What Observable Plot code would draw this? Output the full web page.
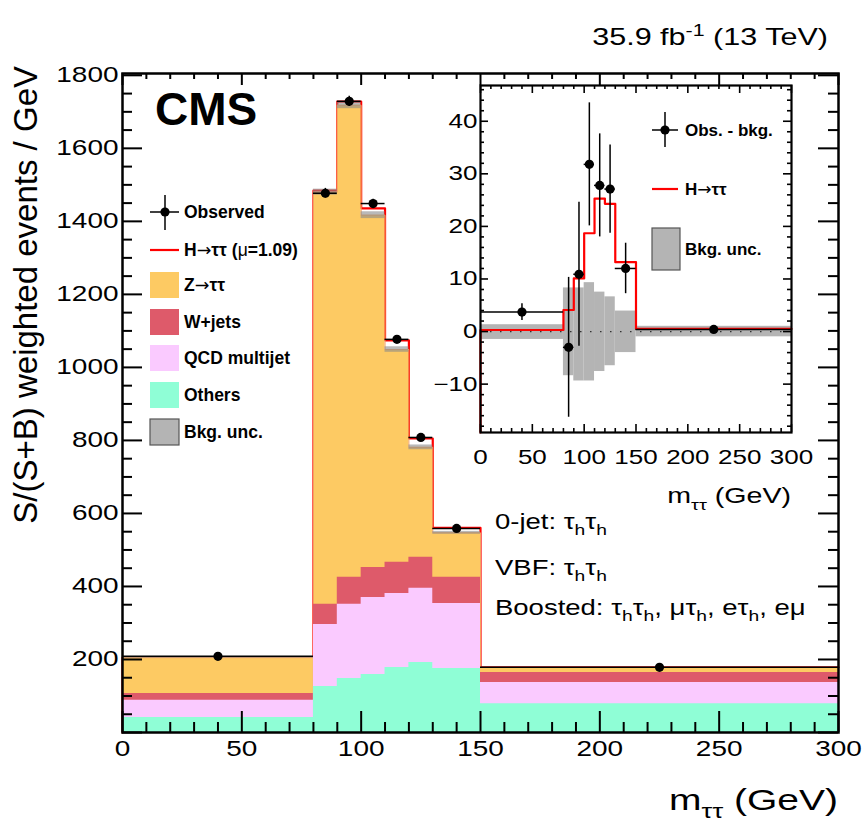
<!DOCTYPE html>
<html><head><meta charset="utf-8">
<script src="https://cdn.jsdelivr.net/npm/d3@7"></script>
<script src="https://cdn.jsdelivr.net/npm/@observablehq/plot@0.6"></script>
<style>
body{margin:0;background:#fff;}
#wrap{position:relative;width:863px;height:824px;overflow:hidden;}
#main{position:absolute;left:0;top:0;}
#inset{position:absolute;left:440px;top:80px;}
</style></head><body><div id="wrap"><div id="main"></div><div id="inset"></div></div>
<script>
// ---------- data ----------
const binEdges   = [0, 80, 90, 100, 110, 120, 130, 150, 300];
const others     = [41, 126, 148, 159, 178, 192, 175, 79];
const qcd        = [47, 170, 203, 211, 203, 203, 178, 58];
const wjets      = [19, 55, 74, 82, 85, 85, 72, 27];
const ztt        = [98, 1129, 1293, 965, 583, 301, 122, 14];
const signal     = [0.3, 4.1, 10.1, 18.7, 25.3, 24.3, 13.2, 0.5];
const obsMinusBkg= [3.7, -3.0, 10.9, 31.8, 27.8, 27.1, 12.0, 0.4];
const obsErr     = [1.6, 13.3, 13.7, 11.7, 9.8, 8.4, 4.8, 0.6];
const uncLo      = [1.5, 8.4, 9.4, 9.4, 7.6, 6.5, 4.0, 1.0];
const uncHi      = [1.3, 8.3, 8.3, 9.3, 7.5, 6.6, 3.9, 1.0];
const mainXTicks = [0, 50, 100, 150, 200, 250, 300];
const mainYTicks = [0, 200, 400, 600, 800, 1000, 1200, 1400, 1600, 1800];
const mainYLabels= [200, 400, 600, 800, 1000, 1200, 1400, 1600, 1800];
const insetYTicks= [-10, 0, 10, 20, 30, 40];

const FONT = "'Liberation Sans', Arial, Helvetica, sans-serif";
const C = {z:"#fdca63", w:"#de5a6a", qcd:"#facaff", oth:"#8ffed6", unc:"#b4b4b4", sig:"#ff0000"};

const bins = binEdges.slice(0,-1).map((lo,i)=>{
  const hi = binEdges[i+1];
  const cOth = others[i], cQcd = cOth+qcd[i], cW = cQcd+wjets[i], cZ = cW+ztt[i];
  return {lo, hi, xc:(lo+hi)/2, cOth, cQcd, cW, cZ,
    tot: cZ+signal[i], obs: cZ+obsMinusBkg[i], err: obsErr[i],
    d: obsMinusBkg[i], sig: signal[i],
    uLo: cZ-uncLo[i], uHi: cZ+uncHi[i], iLo: -uncLo[i], iHi: uncHi[i]};
});
function stepPts(acc, start){
  const pts=[{x:binEdges[0], y:start}];
  bins.forEach(b=>{pts.push({x:b.lo,y:acc(b)},{x:b.hi,y:acc(b)});});
  return pts;
}
function stepArea(acc){
  const pts=[];
  bins.forEach(b=>{pts.push({x:b.lo,y:acc(b)},{x:b.hi,y:acc(b)});});
  return pts;
}
const xMinor = d3.range(0,301,10).filter(v=>v%50);
const yMinor = d3.range(0,1801,50).filter(v=>v%200);
const iyMinor = d3.range(-18,47,2).filter(v=>v%10);

// ---------- main plot ----------
const W=863,H=824,mL=122,mR=25,mT=73,mB=92;
const iw=W-mL-mR, ih=H-mT-mB;
const tk = (vals, dim, opts)=> dim==="x" ? Plot.ruleX(vals,{x:d=>d,stroke:"black",...opts}) : Plot.ruleY(vals,{y:d=>d,stroke:"black",...opts});
const layer = (acc, fill)=> Plot.areaY(stepArea(acc),{x:"x",y1:0,y2:"y",fill,curve:"linear"});
const main = Plot.plot({
  width:W, height:H, marginLeft:mL, marginRight:mR, marginTop:mT, marginBottom:mB,
  x:{domain:[0,300]}, y:{domain:[0,1805]},
  style:{fontFamily:FONT, fontSize:"21.5px", background:"transparent", color:"black"},
  marks:[
    Plot.line(stepPts(b=>b.tot,0),{x:"x",y:"y",stroke:C.sig,strokeWidth:2.2}),
    layer(b=>b.cZ, C.z),
    Plot.line(stepPts(b=>b.cZ,0),{x:"x",y:"y",stroke:"#f4a060",strokeWidth:1}),
    layer(b=>b.cW, C.w),
    layer(b=>b.cQcd, C.qcd),
    layer(b=>b.cOth, C.oth),
    Plot.rect(bins,{x1:"lo",x2:"hi",y1:"uLo",y2:"uHi",fill:"#8a8a8a",fillOpacity:0.6}),
    Plot.ruleY(bins,{y:"obs",x1:"lo",x2:"hi",stroke:"black",strokeWidth:1.5}),
    Plot.ruleX(bins,{x:"xc",y1:d=>d.obs-d.err,y2:d=>d.obs+d.err,stroke:"black",strokeWidth:1.5}),
    Plot.dot(bins,{x:"xc",y:"obs",r:4.6,fill:"black"}),
    tk(mainXTicks,"x",{insetTop:ih-21,strokeWidth:2}),
    tk(xMinor,"x",{insetTop:ih-10,strokeWidth:2}),
    tk(mainXTicks,"x",{insetBottom:ih-12,strokeWidth:2}),
    tk(xMinor,"x",{insetBottom:ih-6,strokeWidth:2}),
    tk(mainYTicks,"y",{insetRight:iw-20,strokeWidth:2}),
    tk(yMinor,"y",{insetRight:iw-10,strokeWidth:2}),
    tk(mainYTicks,"y",{insetLeft:iw-20,strokeWidth:2}),
    tk(yMinor,"y",{insetLeft:iw-10,strokeWidth:2}),
    Plot.frame({stroke:"black",strokeWidth:2.5}),
    Plot.axisX(mainXTicks,{tickSize:0,tickPadding:8,label:null,tickFormat:d=>String(d)}),
    Plot.axisY(mainYLabels,{tickSize:0,tickPadding:4,label:null,tickFormat:d=>String(d)})
  ]
});
document.getElementById("main").appendChild(main);

// ---------- inset plot ----------
const iL=40,iR=10,iT=5,iB=75, IW=361, IH=427;
const iiw=IW-iL-iR, iih=IH-iT-iB;
const iYDom=[-19.2,46.8];
const inset = Plot.plot({
  width:IW, height:IH, marginLeft:iL, marginRight:iR, marginTop:iT, marginBottom:iB,
  x:{domain:[0,300]}, y:{domain:iYDom},
  style:{fontFamily:FONT, fontSize:"20px", background:"transparent", color:"black", overflow:"visible"},
  marks:[
    Plot.frame({fill:"white"}),
    Plot.rect(bins,{x1:"lo",x2:"hi",y1:"iLo",y2:"iHi",fill:C.unc}),
    Plot.ruleY([0],{stroke:"#333",strokeWidth:1.2,strokeDasharray:"1.5,8.5"}),
    Plot.line(stepPts(b=>b.sig,iYDom[0]),{x:"x",y:"y",stroke:C.sig,strokeWidth:2.2}),
    Plot.ruleY(bins,{y:"d",x1:"lo",x2:"hi",stroke:"black",strokeWidth:1.5}),
    Plot.ruleX(bins,{x:"xc",y1:d=>d.d-d.err,y2:d=>d.d+d.err,stroke:"black",strokeWidth:1.5}),
    Plot.dot(bins,{x:"xc",y:"d",r:4.6,fill:"black"}),
    tk(mainXTicks,"x",{insetTop:iih-8,strokeWidth:1.6}),
    tk(xMinor,"x",{insetTop:iih-4,strokeWidth:1.6}),
    tk(mainXTicks,"x",{insetBottom:iih-8,strokeWidth:1.6}),
    tk(xMinor,"x",{insetBottom:iih-4,strokeWidth:1.6}),
    tk(insetYTicks,"y",{insetRight:iiw-8,strokeWidth:1.6}),
    tk(iyMinor,"y",{insetRight:iiw-4,strokeWidth:1.6}),
    tk(insetYTicks,"y",{insetLeft:iiw-8,strokeWidth:1.6}),
    tk(iyMinor,"y",{insetLeft:iiw-4,strokeWidth:1.6}),
    Plot.frame({stroke:"black",strokeWidth:2.2}),
    Plot.axisX(mainXTicks,{tickSize:0,tickPadding:17,label:null,tickFormat:d=>String(d)}),
    Plot.axisY(insetYTicks,{tickSize:0,tickPadding:3,label:null,tickFormat:d=>d<0?"\u2212"+(-d):String(d)})
  ]
});
document.getElementById("inset").appendChild(inset);

// ---------- stretch tick labels (ROOT-like wide glyphs) ----------
function stretchTicks(svg, s){
  d3.select(svg).selectAll('[aria-label="x-axis tick label"] text, [aria-label="y-axis tick label"] text').each(function(){
    const L=this.getComputedTextLength();
    this.setAttribute("textLength", L*s);
    this.setAttribute("lengthAdjust","spacingAndGlyphs");
  });
}
stretchTicks(main,1.3);
stretchTicks(inset,1.3);

// ---------- text helper ----------
function label(svg, x, y, parts, o={}){
  const g = svg.append("g").attr("transform",`translate(${x},${y})${o.rotate?` rotate(${o.rotate})`:""} scale(${o.sx||1},1)`);
  const t = g.append("text").attr("text-anchor",o.anchor||"start").attr("font-size",o.size)
    .attr("font-weight",o.weight||"normal").attr("font-family",FONT).attr("fill","black").style("white-space","pre");
  let cur=0;
  for (const p of parts){
    const [str, shift=0, scale=1, w, fam] = Array.isArray(p)?p:[p];
    const ts = t.append("tspan").text(str).attr("dy", shift-cur);
    if (scale!==1) ts.attr("font-size", o.size*scale);
    if (w) ts.attr("font-weight", w);
    if (fam) ts.attr("font-family", fam);
    cur=shift;
  }
}
const ARROW = ["→",0,1,"normal","'DejaVu Sans', sans-serif"];
const ms = d3.select(main);
// titles
label(ms, 37, 66, ["S/(S+B) weighted events / GeV"], {size:33, anchor:"end", rotate:-90});
label(ms, 838, 810, ["m", ["ττ",8,0.7], [" (GeV)",0]], {size:30, anchor:"end", sx:1.3});
label(ms, 828, 45, ["35.9 fb", ["-1",-9,0.7], [" (13 TeV)",0]], {size:23.5, anchor:"end", sx:1.3});
label(ms, 155, 125, ["CMS"], {size:46, weight:"bold"});
// annotations
label(ms, 495, 529, ["0-jet: τ",["h",6,0.7],["τ",0],["h",6,0.7]], {size:22, sx:1.25});
label(ms, 495, 575, ["VBF: τ",["h",6,0.7],["τ",0],["h",6,0.7]], {size:22, sx:1.25});
label(ms, 495, 615, ["Boosted: τ",["h",6,0.7],["τ",0],["h",6,0.7],[", μτ",0],["h",6,0.7],[", eτ",0],["h",6,0.7],[", eμ",0]], {size:22, sx:1.25});

// main legend
const legX0=150, legX1=179, legTx=184;
ms.append("line").attr("x1",legX0).attr("x2",legX1).attr("y1",212).attr("y2",212).attr("stroke","black").attr("stroke-width",1.5);
ms.append("line").attr("x1",165).attr("x2",165).attr("y1",195).attr("y2",230).attr("stroke","black").attr("stroke-width",1.5);
ms.append("circle").attr("cx",165).attr("cy",212).attr("r",4.6).attr("fill","black");
label(ms, legTx, 218, ["Observed"], {size:17.5, weight:"bold"});
ms.append("line").attr("x1",legX0).attr("x2",legX1).attr("y1",250).attr("y2",250).attr("stroke",C.sig).attr("stroke-width",2.2);
label(ms, legTx, 256, ["H",ARROW,"ττ (",["μ",0,1,"normal"],"=1.09)"], {size:17.5, weight:"bold"});
const boxes = [[C.z,285,["Z",ARROW,"ττ"]],[C.w,322,["W+jets"]],[C.qcd,358,["QCD multijet"]],[C.oth,395,["Others"]],[C.unc,432,["Bkg. unc."]]];
boxes.forEach(([col,cy,txt],i)=>{
  const r = ms.append("rect").attr("x",legX0).attr("y",cy-13).attr("width",legX1-legX0).attr("height",26).attr("fill",col);
  if (i===4) r.attr("stroke","#555").attr("stroke-width",1.2);
  label(ms, legTx, cy+6, txt, {size:17.5, weight:"bold"});
});

// inset texts & legend
const is = d3.select(inset);
const ox=440, oy=80;
label(is, 791-ox, 503-oy, ["m", ["ττ",7,0.7], [" (GeV)",0]], {size:22, anchor:"end", sx:1.3});
is.append("line").attr("x1",652-ox).attr("x2",678-ox).attr("y1",130-oy).attr("y2",130-oy).attr("stroke","black").attr("stroke-width",1.5);
is.append("line").attr("x1",665-ox).attr("x2",665-ox).attr("y1",112-oy).attr("y2",147-oy).attr("stroke","black").attr("stroke-width",1.5);
is.append("circle").attr("cx",665-ox).attr("cy",130-oy).attr("r",4.6).attr("fill","black");
label(is, 685-ox, 136-oy, ["Obs. - bkg."], {size:17, weight:"bold"});
is.append("line").attr("x1",652-ox).attr("x2",678-ox).attr("y1",189-oy).attr("y2",189-oy).attr("stroke",C.sig).attr("stroke-width",2.2);
label(is, 685-ox, 195-oy, ["H",ARROW,"ττ"], {size:17, weight:"bold"});
is.append("rect").attr("x",652-ox).attr("y",228-oy).attr("width",28).attr("height",42).attr("fill",C.unc).attr("stroke","#555").attr("stroke-width",1.2);
label(is, 685-ox, 255-oy, ["Bkg. unc."], {size:17, weight:"bold"});
</script></body></html>
